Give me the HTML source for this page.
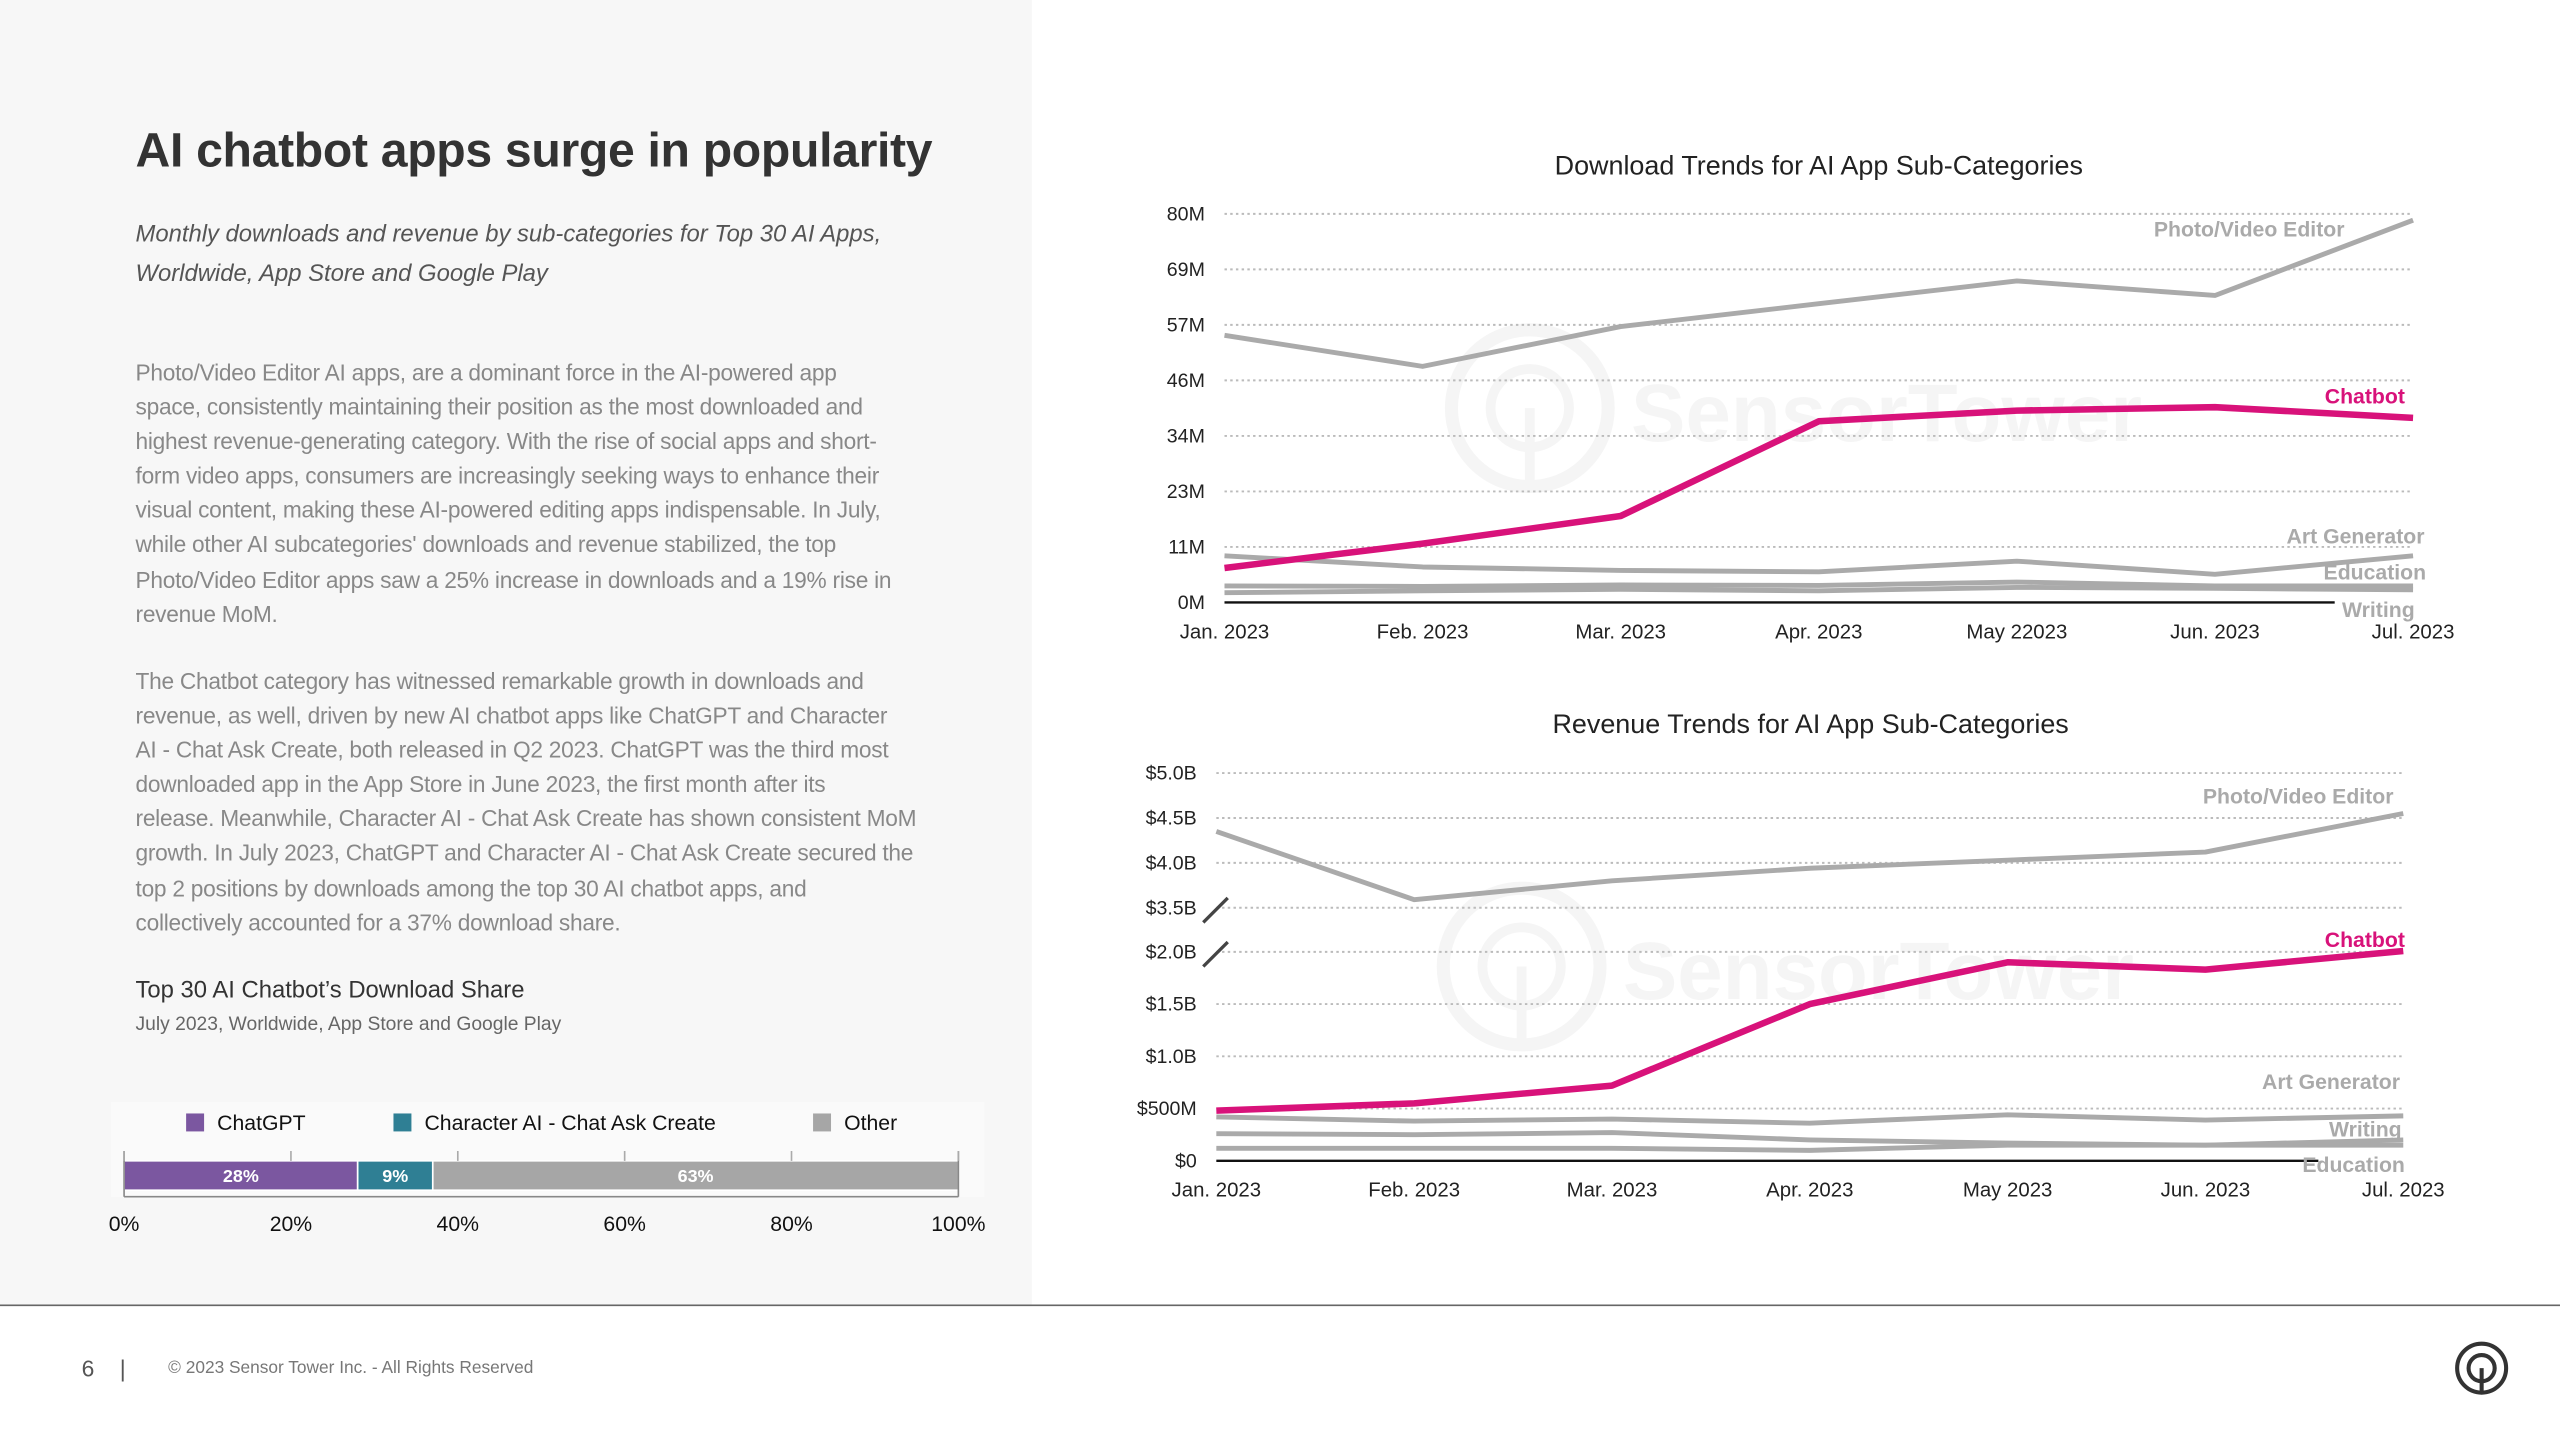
<!DOCTYPE html>
<html><head><meta charset="utf-8"><style>
html,body{margin:0;padding:0;width:2560px;height:1440px;overflow:hidden;background:#fff}
#s{position:absolute;left:0;top:0;width:1568px;height:882px;transform:scale(1.632653);transform-origin:0 0;font-family:"Liberation Sans",sans-serif}
.t{position:absolute;white-space:nowrap}
.p{position:absolute;white-space:nowrap;font-size:13.9px;color:#888;line-height:21.1px;letter-spacing:-0.15px}
</style></head><body><div id="s">
<div style="position:absolute;left:0;top:0;width:632px;height:800px;background:#f7f7f7"></div>
<div class="t" style="left:83px;top:76px;font-size:29.5px;font-weight:bold;color:#333;letter-spacing:-0.2px">AI chatbot apps surge in popularity</div>
<div class="t" style="left:83px;top:132px;font-size:14.6px;font-style:italic;color:#555;line-height:24px">Monthly downloads and revenue by sub-categories for Top 30 AI Apps,<br>Worldwide, App Store and Google Play</div>
<div class="p" style="left:83px;top:218px">Photo/Video Editor AI apps, are a dominant force in the AI-powered app<br>space, consistently maintaining their position as the most downloaded and<br>highest revenue-generating category. With the rise of social apps and short-<br>form video apps, consumers are increasingly seeking ways to enhance their<br>visual content, making these AI-powered editing apps indispensable. In July,<br>while other AI subcategories' downloads and revenue stabilized, the top<br>Photo/Video Editor apps saw a 25% increase in downloads and a 19% rise in<br>revenue MoM.</div>
<div class="p" style="left:83px;top:407px">The Chatbot category has witnessed remarkable growth in downloads and<br>revenue, as well, driven by new AI chatbot apps like ChatGPT and Character<br>AI - Chat Ask Create, both released in Q2 2023. ChatGPT was the third most<br>downloaded app in the App Store in June 2023, the first month after its<br>release. Meanwhile, Character AI - Chat Ask Create has shown consistent MoM<br>growth. In July 2023, ChatGPT and Character AI - Chat Ask Create secured the<br>top 2 positions by downloads among the top 30 AI chatbot apps, and<br>collectively accounted for a 37% download share.</div>
<div class="t" style="left:83px;top:599px;font-size:14.6px;color:#333">Top 30 AI Chatbot’s Download Share</div>
<div class="t" style="left:83px;top:620px;font-size:11.8px;color:#666">July 2023, Worldwide, App Store and Google Play</div>
<svg style="position:absolute;left:0;top:670px" width="632" height="100" id="share"></svg>
<svg style="position:absolute;left:640px;top:80px" width="928" height="330" id="dl" viewBox="640 80 928 330"></svg>
<svg style="position:absolute;left:640px;top:425px" width="928" height="320" id="rv" viewBox="640 425 928 320"></svg>
<div style="position:absolute;left:0;top:799px;width:1568px;height:1px;background:#666"></div>
<div class="t" style="left:50px;top:830px;font-size:14px;color:#555">6 &nbsp;&nbsp; |</div>
<div class="t" style="left:103px;top:832px;font-size:10.6px;color:#777">© 2023 Sensor Tower Inc. - All Rights Reserved</div>
<svg style="position:absolute;left:1502px;top:820px" width="36" height="36"><circle cx="18" cy="18" r="15" fill="none" stroke="#333" stroke-width="2.5"/><circle cx="18" cy="18" r="8" fill="none" stroke="#333" stroke-width="2.5"/><line x1="18" y1="18" x2="18" y2="33" stroke="#333" stroke-width="2.5"/></svg>
</div>
<script>
const NS='http://www.w3.org/2000/svg';
function mk(p,tag,a,txt){const e=document.createElementNS(NS,tag);for(const k in a)e.setAttribute(k,a[k]);if(txt!==undefined)e.textContent=txt;p.appendChild(e);return e;}
const F='"Liberation Sans",sans-serif';
// ---------- Download chart data ----------
const months=['Jan. 2023','Feb. 2023','Mar. 2023','Apr. 2023','May 22023','Jun. 2023','Jul. 2023'];
const dlTicks=['0M','11M','23M','34M','46M','57M','69M','80M'];
const dlPhoto=[55,48.6,56.8,61.5,66.2,63.2,78.7];
const dlChatbot=[7.1,12.1,17.8,37.3,39.5,40.2,38];
const dlArt=[9.6,7.3,6.6,6.3,8.5,5.8,9.6];
const dlEducation=[3.4,3.3,3.6,3.5,4.2,3.4,3.4];
const dlWriting=[2,2.4,2.7,2.4,3.1,2.9,2.6];
// ---------- Revenue chart data ----------
const rvMonths=['Jan. 2023','Feb. 2023','Mar. 2023','Apr. 2023','May 2023','Jun. 2023','Jul. 2023'];
const rvTicks=['$0','$500M','$1.0B','$1.5B','$2.0B','$3.5B','$4.0B','$4.5B','$5.0B'];
const rvTickVals=[0,0.5,1,1.5,2,3.5,4,4.5,5];
const rvPhoto=[4.35,3.59,3.8,3.94,4.03,4.12,4.55];
const rvChatbot=[0.48,0.55,0.72,1.5,1.9,1.83,2.03];
const rvArt=[0.42,0.38,0.4,0.36,0.44,0.39,0.43];
const rvWriting=[0.26,0.25,0.27,0.2,0.17,0.15,0.2];
const rvEducation=[0.12,0.12,0.12,0.1,0.15,0.15,0.15];
// ---------- Share data ----------
const shareLabels=['ChatGPT','Character AI - Chat Ask Create','Other'];
const shareVals=[28,9,63];
const shareColors=['#7b57a0','#2f7f94','#a6a6a6'];

function watermark(g,cx,cy){
  const w=mk(g,'g',{opacity:0.04});
  
  mk(w,'circle',{cx:cx,cy:cy,r:48,fill:'none',stroke:'#000','stroke-width':8});
  mk(w,'circle',{cx:cx,cy:cy,r:24,fill:'none',stroke:'#000','stroke-width':6});
  mk(w,'line',{x1:cx,y1:cy,x2:cx,y2:cy+48,stroke:'#000','stroke-width':6});
  mk(w,'text',{x:cx+62,y:cy+20,'font-family':F,'font-size':50,'font-weight':'bold',fill:'#000'},'SensorTower');
}
function series(g,vals,xf,yf,color,w,name){
  const p=mk(g,'polyline',{points:vals.map((v,i)=>xf(i)+','+yf(v)).join(' '),fill:'none',stroke:color,'stroke-width':w,'stroke-linejoin':'round'});
  
  
}
function lab(g,x,y,t,c,name){
  const e=mk(g,'text',{x:x,y:y,'text-anchor':'end','font-family':F,'font-size':13,'font-weight':'bold',fill:c},t);
  
  
}
// Download chart
(function(){
  const g=document.getElementById('dl');
  const x0=750,x1=1478,yTop=131,yBot=369;
  const xf=i=>x0+i*(x1-x0)/(months.length-1);
  const yf=v=>yBot-v/80*(yBot-yTop);
  watermark(g,937,250);
  const t=mk(g,'text',{x:1114,y:107,'text-anchor':'middle','font-family':F,'font-size':16.5,fill:'#222'},'Download Trends for AI App Sub-Categories');
  
  dlTicks.forEach((s,i)=>{const y=yBot-i*(yBot-yTop)/(dlTicks.length-1);
    if(i>0)mk(g,'line',{x1:x0,y1:y,x2:x1,y2:y,stroke:'#bbb','stroke-width':1.2,'stroke-dasharray':'1.5 2'});
    const e=mk(g,'text',{x:738,y:y+4,'text-anchor':'end','font-family':F,'font-size':12,fill:'#222'},s);
    });
  months.forEach((m,i)=>{const e=mk(g,'text',{x:xf(i),y:391,'text-anchor':'middle','font-family':F,'font-size':12.5,fill:'#222'},m);
    });
  mk(g,'line',{x1:x0,y1:yBot,x2:1430,y2:yBot,stroke:'#111','stroke-width':1.5});
  series(g,dlWriting,xf,yf,'#aaa',3,'writing-line');
  series(g,dlEducation,xf,yf,'#aaa',3,'education-line');
  series(g,dlArt,xf,yf,'#aaa',3,'art-generator-line');
  series(g,dlPhoto,xf,yf,'#aaa',3,'photo-video-editor-line');
  series(g,dlChatbot,xf,yf,'#d8127a',4,'chatbot-line');
  lab(g,1436,145,'Photo/Video Editor','#aaa','photo-video-label');
  lab(g,1473,247,'Chatbot','#d8127a','chatbot-label');
  lab(g,1485,333,'Art Generator','#aaa','art-generator-label');
  lab(g,1486,355,'Education','#aaa','education-label');
  lab(g,1479,378,'Writing','#aaa','writing-label');
})();
// Revenue chart
(function(){
  const g=document.getElementById('rv');
  const x0=745,x1=1472;
  const xf=i=>x0+i*(x1-x0)/(rvMonths.length-1);
  const yf=v=>{ if(v<=2) return 711-v/0.5*32; if(v>=3.5) return 556-(v-3.5)/0.5*27.5; return 583-(v-2)/1.5*27; };
  watermark(g,932,592);
  const t=mk(g,'text',{x:1109,y:449,'text-anchor':'middle','font-family':F,'font-size':16.5,fill:'#222'},'Revenue Trends for AI App Sub-Categories');
  
  rvTicks.forEach((s,i)=>{const y=yf(rvTickVals[i]);
    if(i>0)mk(g,'line',{x1:x0,y1:y,x2:x1,y2:y,stroke:'#bbb','stroke-width':1.2,'stroke-dasharray':'1.5 2'});
    const e=mk(g,'text',{x:733,y:y+4,'text-anchor':'end','font-family':F,'font-size':12,fill:'#222'},s);
    });
  mk(g,'line',{x1:737,y1:565,x2:752,y2:550,stroke:'#444','stroke-width':2});
  mk(g,'line',{x1:737,y1:592,x2:752,y2:577,stroke:'#444','stroke-width':2});
  rvMonths.forEach((m,i)=>{const e=mk(g,'text',{x:xf(i),y:733,'text-anchor':'middle','font-family':F,'font-size':12.5,fill:'#222'},m);
    });
  mk(g,'line',{x1:x0,y1:711,x2:1420,y2:711,stroke:'#111','stroke-width':1.5});
  series(g,rvEducation,xf,yf,'#aaa',3,'education-line');
  series(g,rvWriting,xf,yf,'#aaa',3,'writing-line');
  series(g,rvArt,xf,yf,'#aaa',3,'art-generator-line');
  series(g,rvPhoto,xf,yf,'#aaa',3,'photo-video-editor-line');
  series(g,rvChatbot,xf,yf,'#d8127a',4,'chatbot-line');
  lab(g,1466,492,'Photo/Video Editor','#aaa','photo-video-label');
  lab(g,1473,580,'Chatbot','#d8127a','chatbot-label');
  lab(g,1470,667,'Art Generator','#aaa','art-generator-label');
  lab(g,1471,696,'Writing','#aaa','writing-label');
  lab(g,1473,718,'Education','#aaa','education-label');
})();
// Share bar
(function(){
  const g=document.getElementById('share');
  const x0=76,x1=587,y0=41,h=18;
  const xs=v=>x0+v/100*(x1-x0);
  mk(g,'rect',{x:68,y:5,width:535,height:58,fill:'#fafafa'});
  const lx=[114,241,498];
  shareLabels.forEach((l,i)=>{
    mk(g,'rect',{x:lx[i],y:12,width:11,height:11,fill:shareColors[i]});
    const e=mk(g,'text',{x:lx[i]+19,y:22,'font-family':F,'font-size':13,fill:'#111'},l);
    
  });
  let acc=0;
  shareVals.forEach((v,i)=>{
    const r=mk(g,'rect',{x:xs(acc),y:y0,width:xs(acc+v)-xs(acc),height:h,fill:shareColors[i],stroke:'#fff','stroke-width':1});
    
    mk(g,'text',{x:(xs(acc)+xs(acc+v))/2,y:y0+13,'text-anchor':'middle','font-family':F,'font-size':11,'font-weight':'bold',fill:'#fff'},v+'%');
    acc+=v;
  });
  mk(g,'line',{x1:x0,y1:y0-6,x2:x0,y2:y0+h+4,stroke:'#888'});
  mk(g,'line',{x1:x1,y1:y0-6,x2:x1,y2:y0+h+4,stroke:'#888'});
  mk(g,'line',{x1:x0,y1:y0+h+4,x2:x1,y2:y0+h+4,stroke:'#888'});
  [0,20,40,60,80,100].forEach(p=>{
    mk(g,'line',{x1:xs(p),y1:y0-6,x2:xs(p),y2:y0,stroke:'#aaa'});
    const e=mk(g,'text',{x:xs(p),y:84,'text-anchor':'middle','font-family':F,'font-size':13,fill:'#111'},p+'%');
    
  });
})();
</script></body></html>
